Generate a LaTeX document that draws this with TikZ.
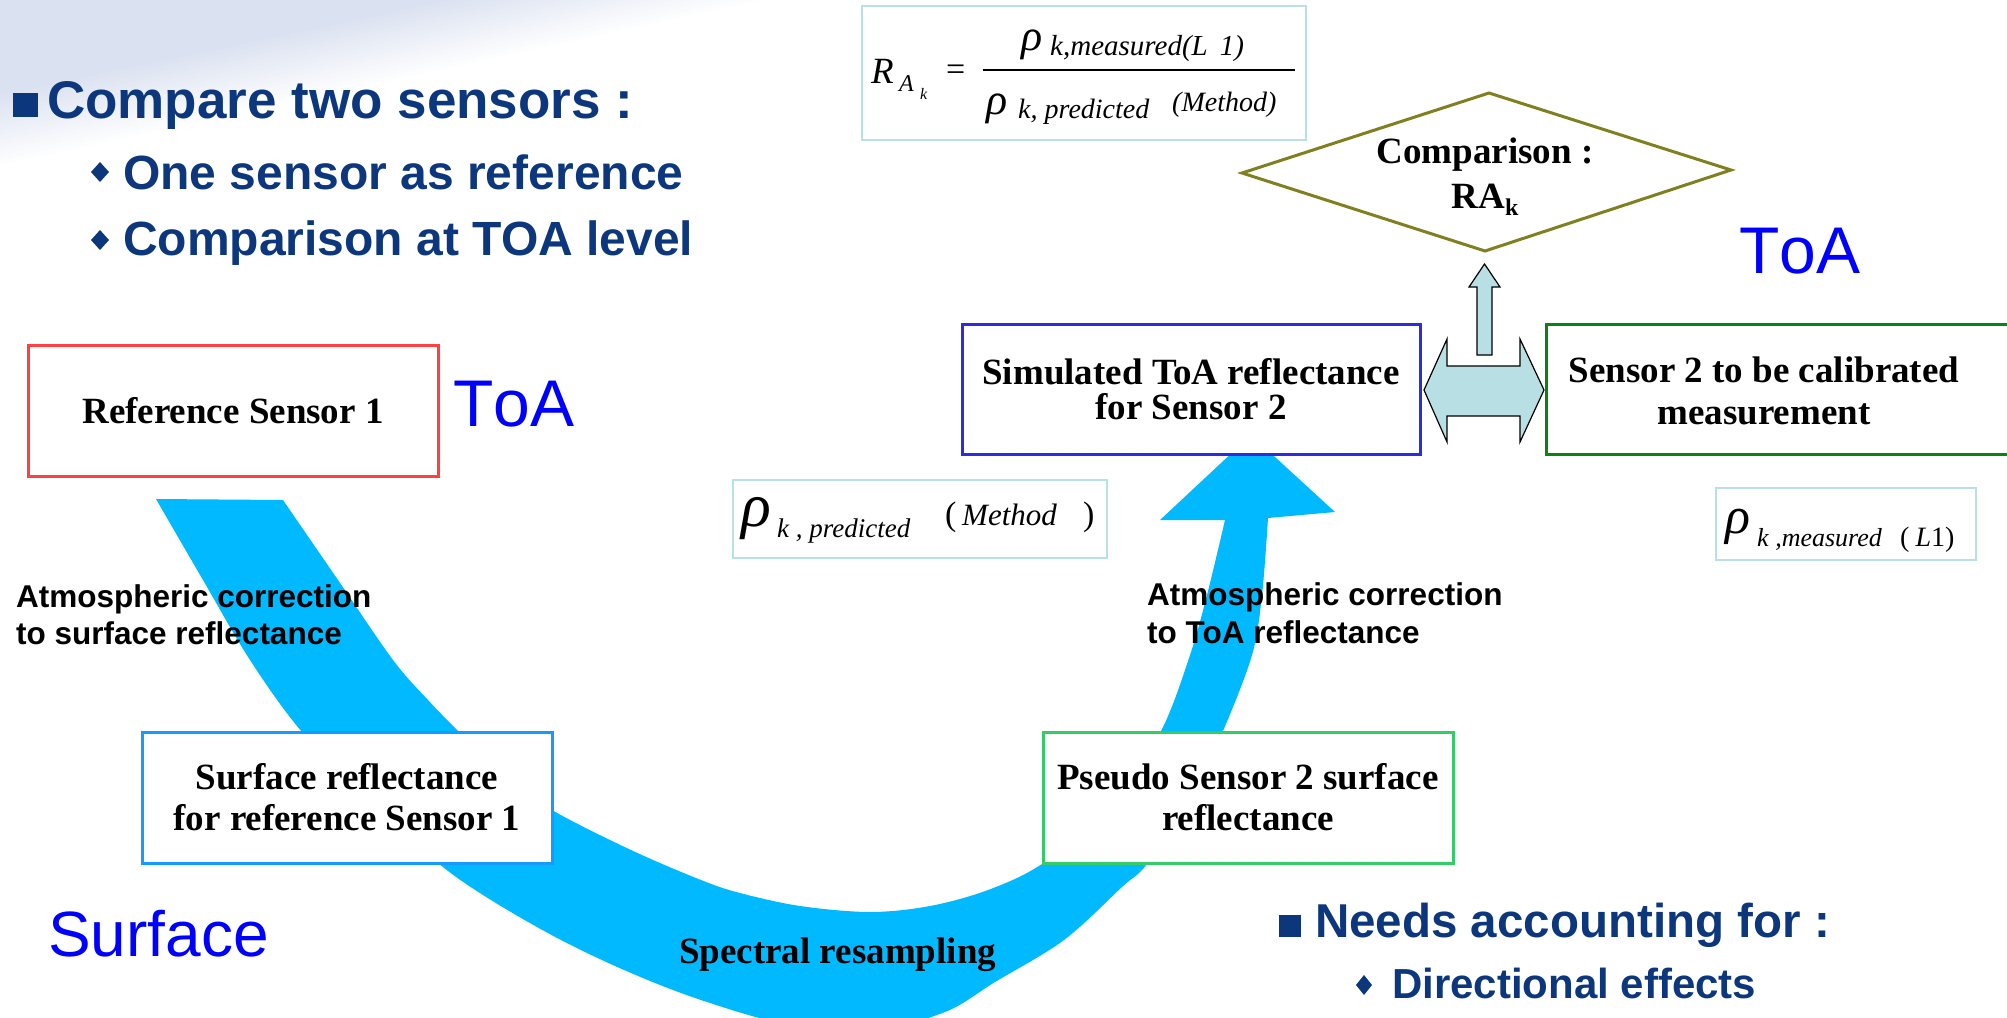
\documentclass[tikz,border=0pt]{standalone}
\usepackage{fontspec}
\setmainfont{Liberation Serif}
\setsansfont{Liberation Sans}
\definecolor{navy}{RGB}{13,55,125}
\definecolor{toablue}{RGB}{0,0,255}
\definecolor{arrowblue}{RGB}{0,185,255}
\definecolor{refred}{RGB}{255,64,64}
\definecolor{surfblue}{RGB}{20,155,255}
\definecolor{pseudogreen}{RGB}{51,204,102}
\definecolor{simblue}{RGB}{45,45,220}
\definecolor{sensgreen}{RGB}{10,130,20}
\definecolor{olivetwo}{RGB}{128,128,32}
\definecolor{frameblue}{RGB}{184,224,230}
\definecolor{tealtwo}{RGB}{184,224,228}
\definecolor{bggray}{RGB}{218,225,240}
\begin{document}
\begin{tikzpicture}[x=1pt,y=-1pt,
  fbox/.style={draw, line width=3pt, fill=white, inner sep=0pt, align=center,
    font=\fontsize{37}{41}\selectfont\bfseries},
  navytxt/.style={anchor=base west, inner sep=0pt, text=navy},
  lvl/.style={font=\fontsize{64}{64}\selectfont\sffamily, text=toablue, anchor=base west, inner sep=0pt},
  lbl/.style={font=\fontsize{31.5}{31.5}\selectfont\sffamily\bfseries, anchor=base west, inner sep=0pt},
  fml/.style={anchor=base west, inner sep=0pt},
  frm/.style={draw=frameblue, line width=2pt, inner sep=0pt},
  blockarrow/.style={fill=tealtwo, draw=black, line width=1.2pt, line join=miter}
]
\useasboundingbox (0,0) rectangle (2007,1017);
% background gradient (diagonal fade in the top-left corner)
\foreach \i in {0,...,14}{
  \pgfmathsetmacro{\xx}{760-22*\i}
  \pgfmathsetmacro{\yy}{165-5*\i}
  \pgfmathsetmacro{\pp}{100*(\i+1)/15}
  \fill[bggray!\pp!white] (0,0) -- (\xx,0) -- (0,\yy) -- cycle;
}

% big curved arrow
\fill[arrowblue]
  plot[smooth, tension=0.55] coordinates {(156,499) (203,580) (250,660) (302,732) (370,800) (438,863) (491,900) (561,940) (631,973) (701,1000) (785,1024) (870,1031) (945,1012) (995,982) (1064,940) (1122,887) (1147,864) (1190,800) (1223,731) (1252,655) (1262,595) (1268,518)}
  -- (1335,512) -- (1251,435) -- (1160,520) --
  plot[smooth, tension=0.55] coordinates {(1225,520) (1207,595) (1190,655) (1161,731) (1110,810) (1042,864) (988,890) (930,906) (870,912) (800,906) (740,893) (701,880) (631,850) (552,810) (500,773) (459,732) (428,700) (393,660) (338,580) (283,500)}
  -- cycle;

% headings
\fill[navy] (13,93) rectangle (38,117);
\node[navytxt, font=\fontsize{53}{53}\selectfont\sffamily\bfseries] (h1) at (47,118) {Compare two sensors :};
\fill[navy] (100,162) -- (109,172) -- (100,182) -- (91,172) -- cycle;
\node[navytxt, font=\fontsize{48}{48}\selectfont\sffamily\bfseries] (h2) at (123,189) {One sensor as reference};
\fill[navy] (100,230) -- (109,240) -- (100,250) -- (91,240) -- cycle;
\node[navytxt, font=\fontsize{48}{48}\selectfont\sffamily\bfseries] (h3) at (123,255) {Comparison at TOA level};
\fill[navy] (1279,915) rectangle (1301,937);
\node[navytxt, font=\fontsize{47.5}{47.5}\selectfont\sffamily\bfseries] (h4) at (1315,937) {Needs accounting for :};
\fill[navy] (1364,975) -- (1372,985) -- (1364,995) -- (1356,985) -- cycle;
\node[navytxt, font=\fontsize{42}{42}\selectfont\sffamily\bfseries] (h5) at (1392,998) {Directional effects};

% level labels
\node[lvl, font=\fontsize{66}{66}\selectfont\sffamily\addfontfeature{Kerning=Off}] (toa1) at (453,426) {ToA};
\node[lvl, font=\fontsize{66}{66}\selectfont\sffamily\addfontfeature{Kerning=Off}] (toa2) at (1739,273) {ToA};
\node[lvl] (surf) at (48,956) {Surface};

% boxes
\node[fbox, draw=refred, minimum width=410pt, minimum height=131pt] (ref) at (233,410.5) {Reference Sensor 1};
\node[fbox, draw=surfblue, minimum width=410pt, minimum height=131pt] (sfc) at (347,797.5) {Surface reflectance\\for reference Sensor 1};
\node[fbox, draw=pseudogreen, minimum width=410pt, minimum height=131pt] (pseudo) at (1248,797.5) {Pseudo Sensor 2 surface\\reflectance};
\node[fbox, draw=simblue, minimum width=458pt, minimum height=130pt, font=\fontsize{37}{35}\selectfont\bfseries] (sim) at (1191,389) {Simulated ToA reflectance\\for Sensor 2};
\draw[sensgreen, line width=3pt, fill=white] (1546,324) rectangle (2030,454);
\node[inner sep=0pt, align=center, font=\fontsize{37}{42}\selectfont\bfseries] (sens2) at (1764,391) {Sensor 2 to be calibrated\\measurement};

% arrow labels
\node[lbl] (atmL1) at (16,607) {Atmospheric correction};
\node[lbl] (atmL2) at (16,644) {to surface reflectance};
\node[lbl] (atmR1) at (1147,605) {Atmospheric correction};
\node[lbl] (atmR2) at (1147,643) {to ToA reflectance};
\node[fml, font=\fontsize{37}{37}\selectfont\bfseries] (spec) at (679,963) {Spectral resampling};

% double arrow and up arrow
\coordinate (dA1) at (1424,390);
\coordinate (dA2) at (1544,390);
\draw[blockarrow] (dA1) -- (1447,339) -- (1447,366) -- (1520,366) -- (1520,339) -- (dA2) -- (1520,442) -- (1520,416) -- (1447,416) -- (1447,442) -- cycle;
\coordinate (uA) at (1484.5,264);
\draw[blockarrow] (uA) -- (1500,287) -- (1492,287) -- (1492,355) -- (1477,355) -- (1477,287) -- (1469,287) -- cycle;

% diamond
\coordinate (dL) at (1242,173);
\coordinate (dT) at (1489,93);
\coordinate (dR) at (1731,170);
\coordinate (dB) at (1485,251);
\draw[olivetwo, line width=3pt, line join=miter] (dL) -- (dT) -- (dR) -- (dB) -- cycle;
\node[inner sep=0pt, align=center, font=\fontsize{37}{45}\selectfont\bfseries] (cmp) at (1485,177) {Comparison :\\RA\raisebox{-7pt}{\fontsize{24}{24}\selectfont k}};

% formula box top
\node[frm, minimum width=444pt, minimum height=134pt] (fbx) at (1084,73) {};
\node[fml, font=\fontsize{37}{37}\selectfont\itshape] (fR) at (871,83) {R};
\node[fml, font=\fontsize{24}{24}\selectfont\itshape] (fA) at (899,91) {A};
\node[fml, font=\fontsize{16}{16}\selectfont\itshape] (fk) at (920,99) {k};
\node[fml, font=\fontsize{34}{34}\selectfont] (feq) at (946,80) {=};
\draw[line width=1.5pt] (983,70) -- (1295,70);
\node[fml, font=\fontsize{44}{44}\selectfont\itshape] (fn1) at (1021,50) {ρ};
\node[fml, font=\fontsize{29}{29}\selectfont\itshape] (fn2) at (1050,55) {k,measured(L\hspace{12pt}1)};
\node[fml, font=\fontsize{44}{44}\selectfont\itshape] (fd1) at (986,114) {ρ};
\node[fml, font=\fontsize{28}{28}\selectfont\itshape] (fd2) at (1018,118) {k, predicted};
\node[fml, font=\fontsize{28}{28}\selectfont\itshape] (fd3) at (1172,111) {(Method)};

% rho predicted box
\node[frm, minimum width=374pt, minimum height=78pt] (pbx) at (920,519) {};
\node[fml, font=\fontsize{62}{62}\selectfont\itshape] (p1) at (741,526) {ρ};
\node[fml, font=\fontsize{27}{27}\selectfont\itshape] (p2) at (777,537) {k , predicted};
\node[fml, font=\fontsize{34}{34}\selectfont] (p3) at (945,525) {(};
\node[fml, font=\fontsize{31}{31}\selectfont\itshape] (p4) at (962,525) {Method};
\node[fml, font=\fontsize{34}{34}\selectfont] (p5) at (1083,525) {)};

% rho measured box
\node[frm, minimum width=260pt, minimum height=72pt] (mbx) at (1846,524) {};
\node[fml, font=\fontsize{52}{52}\selectfont\itshape] (m1) at (1725,533) {ρ};
\node[fml, font=\fontsize{26}{26}\selectfont\itshape] (m2) at (1757,546) {k ,measured};
\node[fml, font=\fontsize{28}{28}\selectfont] (m3) at (1900,546) {(\hspace{6pt}\textit{L}1)};
\end{tikzpicture}
\end{document}
